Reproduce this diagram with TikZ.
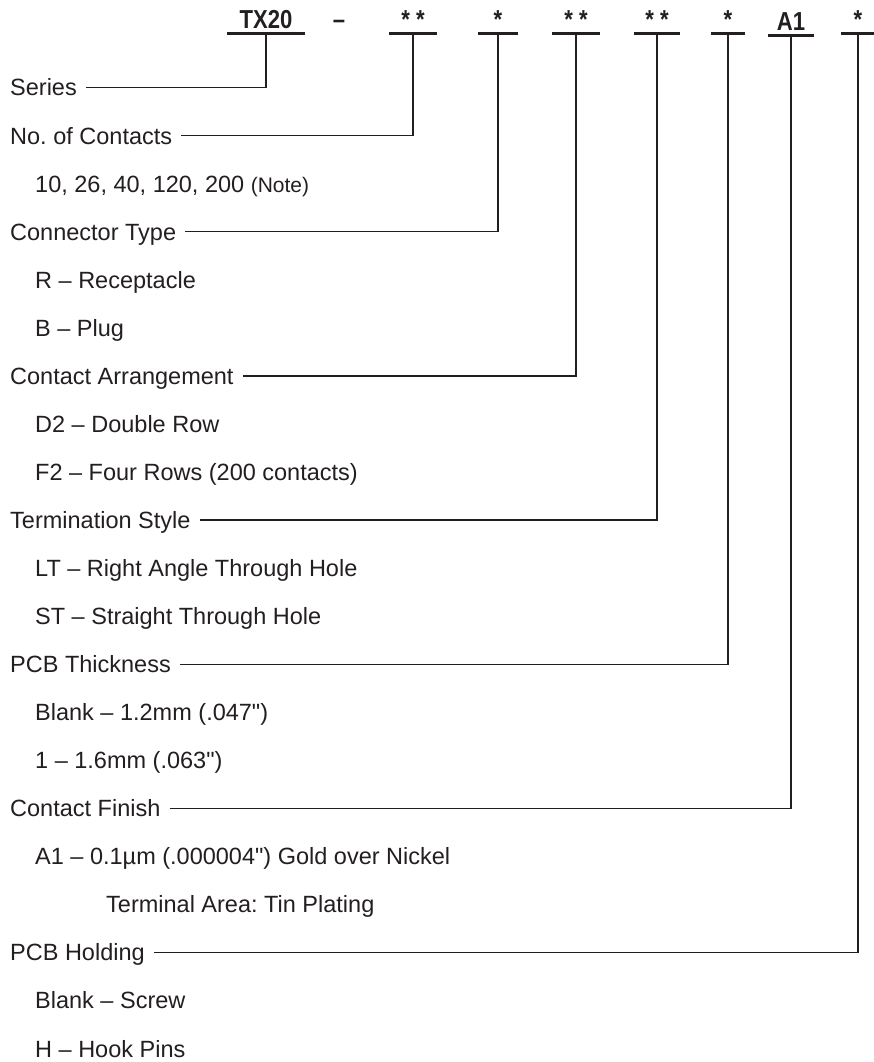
\documentclass[tikz,border=0pt]{standalone}
\usepackage{fontspec}
\newfontfamily\bodyfont{Liberation Sans}
\newfontfamily\hdfont{Liberation Sans}[FakeStretch=0.85]
\usetikzlibrary{calc}
\definecolor{ink}{HTML}{231F20}
\frenchspacing

\tikzset{
	field/.style = {anchor=base west, inner xsep=9pt, inner ysep=0pt, text height=16.8pt, text depth=0pt, text=ink, font=\bodyfont\fontsize{23.5}{28}\selectfont},
	option/.style = {anchor=base west, inner sep=0pt, text=ink, font=\bodyfont\fontsize{23.5}{28}\selectfont},
	code/.style = {anchor=base, inner xsep=0pt, inner ysep=4pt, text depth=0pt, text=ink, font=\hdfont\bfseries\fontsize{26}{30}\selectfont},
	uline/.style = {draw=ink, line width=2.8pt},
	lead/.style = {draw=ink, line width=1.2pt},
}

\begin{document}
\begin{tikzpicture}[x=1pt, y=1pt]
	\def\dy{48.05}
	\def\yb{96}
	\useasboundingbox (0,0) rectangle (873,-1062);
	
	\begin{scope}
		\node [code, minimum width=77pt] (cSeries) at (266,-29) {TX20};
		\node [code] (cDash) at (339,-29) {–};
		\node [code, minimum width=47pt] (cContacts) at (413,-29) {* *};
		\node [code, minimum width=40pt] (cType) at (498,-29) {*};
		\node [code, minimum width=48pt] (cArrange) at (576,-29) {* *};
		\node [code, minimum width=45pt] (cTerm) at (657,-29) {* *};
		\node [code, minimum width=33pt] (cThick) at (728,-29) {*};
		\node [code, minimum width=45pt] (cFinish) at (791,-31) {A1};
		\node [code, minimum width=34pt] (cHold) at (858,-29) {*};
		
		\foreach \c in {cSeries, cContacts, cType, cArrange, cTerm, cThick, cFinish, cHold}
			\draw [uline] (\c.south west) -- (\c.south east);
	\end{scope}
	
	\begin{scope}
		\node [field] (fSeries) at (1,{-\yb}) {Series};
		\node [field] (fContacts) at (1,{-\yb-1*\dy}) {No.\ of Contacts};
		\node [option] (oContacts) at (35,{-\yb-2*\dy}) {10, 26, 40, 120, 200 {\fontsize{21}{24}\selectfont (Note)}};
		\node [field] (fType) at (1,{-\yb-3*\dy}) {Connector Type};
		\node [option] (oTypeR) at (35,{-\yb-4*\dy}) {R – Receptacle};
		\node [option] (oTypeB) at (35,{-\yb-5*\dy}) {B – Plug};
		\node [field] (fArrange) at (1,{-\yb-6*\dy}) {Contact Arrangement};
		\node [option] (oArrD) at (35,{-\yb-7*\dy}) {D2 – Double Row};
		\node [option] (oArrF) at (35,{-\yb-8*\dy}) {F2 – Four Rows (200 contacts)};
		\node [field] (fTerm) at (1,{-\yb-9*\dy}) {Termination Style};
		\node [option] (oTermL) at (35,{-\yb-10*\dy}) {LT – Right Angle Through Hole};
		\node [option] (oTermS) at (35,{-\yb-11*\dy}) {ST – Straight Through Hole};
		\node [field] (fThick) at (1,{-\yb-12*\dy}) {PCB Thickness};
		\node [option] (oThickB) at (35,{-\yb-13*\dy}) {Blank – 1.2mm (.047")};
		\node [option] (oThick1) at (35,{-\yb-14*\dy}) {1 – 1.6mm (.063")};
		\node [field] (fFinish) at (1,{-\yb-15*\dy}) {Contact Finish};
		\node [option] (oFinA) at (35,{-\yb-16*\dy}) {A1 – 0.1µm (.000004") Gold over Nickel};
		\node [option] (oFinT) at (106,{-\yb-17*\dy}) {Terminal Area: Tin Plating};
		\node [field] (fHold) at (1,{-\yb-18*\dy}) {PCB Holding};
		\node [option] (oHoldB) at (35,{-\yb-19*\dy}) {Blank – Screw};
		\node [option] (oHoldH) at (35,{-\yb-20*\dy}) {H – Hook Pins};
	\end{scope}
	
	\begin{scope}
		\draw [lead] (fSeries.east) -| (cSeries.south);
		\draw [lead] (fContacts.east) -| (cContacts.south);
		\draw [lead] (fType.east) -| (cType.south);
		\draw [lead] (fArrange.east) -| (cArrange.south);
		\draw [lead] (fTerm.east) -| (cTerm.south);
		\draw [lead] (fThick.east) -| (cThick.south);
		\draw [lead] (fFinish.east) -| (cFinish.south);
		\draw [lead] (fHold.east) -| (cHold.south);
	\end{scope}
\end{tikzpicture}
\end{document}
